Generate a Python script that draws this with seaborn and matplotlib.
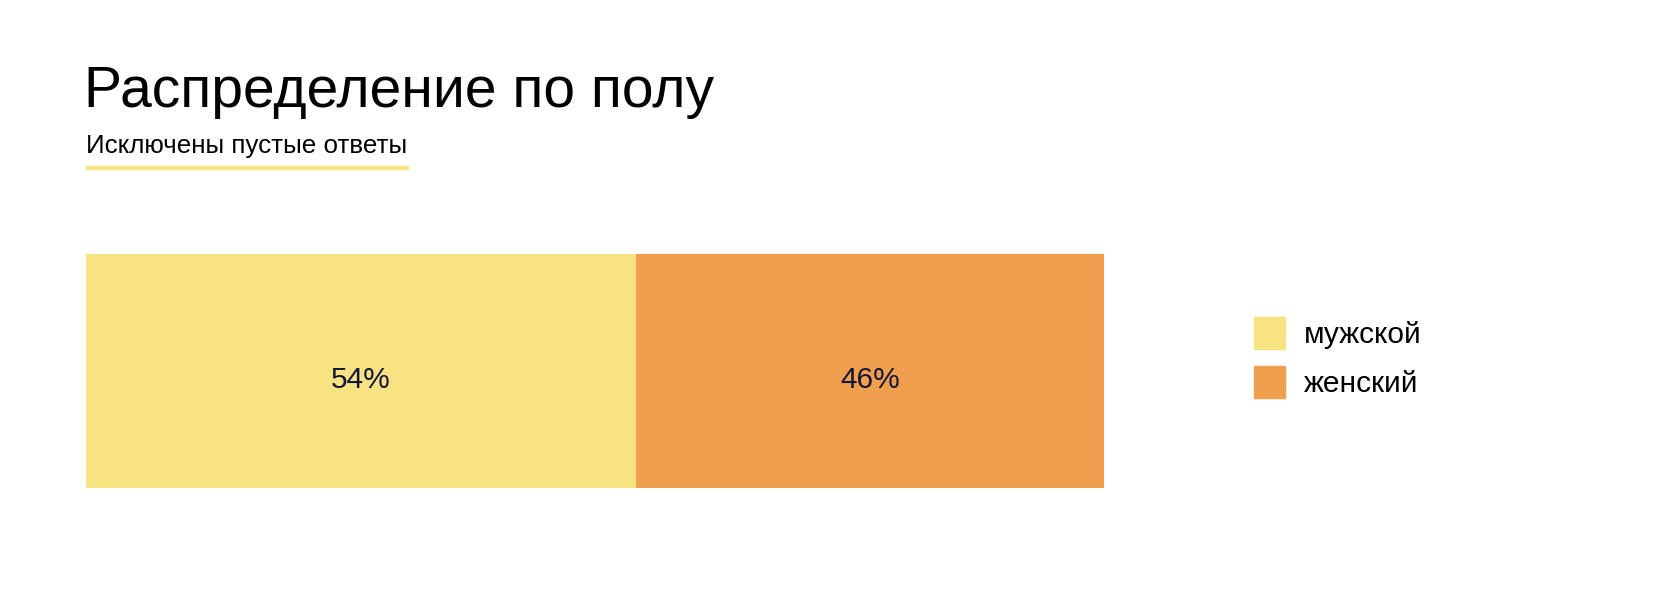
import pandas as pd
import seaborn as sns
from matplotlib import pyplot as plt
from matplotlib.patches import Patch
from matplotlib.lines import Line2D

# data -->
genders = ["мужской", "женский"]
shares = [54, 46]
colors = ["#F7E382", "#F09F4E"]

title = "Распределение по полу"
subtitle = "Исключены пустые ответы"

df = pd.DataFrame({"gender": genders, "share": shares})
df["cum"] = df["share"].cumsum()
df["row"] = "all"

sns.set_theme(style="white")
plt.rcParams["font.family"] = ["Liberation Sans", "DejaVu Sans"]

W, H = 1680, 609
fig = plt.figure(figsize=(W / 100, H / 100), dpi=100)
ax = fig.add_axes([86 / W, 1 - 488 / H, 1018 / W, 234 / H])

# stacked bar: draw widest (cumulative) first, then the shorter on top
order = df.sort_values("cum", ascending=False)
sns.barplot(data=order, x="cum", y="row", hue="gender", hue_order=list(order["gender"]),
            palette=dict(zip(genders, colors)), dodge=False, width=1.0, orient="h",
            legend=False, ax=ax, linewidth=0, saturation=1)

for _, r in df.iterrows():
    ax.text(r["cum"] - r["share"] / 2, 0.04, f"{r['share']}%", ha="center", va="center",
            fontsize=21.5, color="#15143a")

ax.set_xlim(0, df["cum"].max())
ax.set_ylim(0.5, -0.5)
ax.set_axis_off()

# titles -->
fig.text(84 / W, 1 - 107 / H, title, fontsize=41, color="black", va="baseline", ha="left")
fig.text(86 / W, 1 - 153 / H, subtitle, fontsize=18.7, color="black", va="baseline", ha="left")
fig.add_artist(Line2D([86 / W, 409 / W], [1 - 168 / H, 1 - 168 / H], color=colors[0],
                      linewidth=3.2, transform=fig.transFigure, solid_capstyle="butt"))

# legend -->
handles = [Patch(facecolor=c, edgecolor=c, label=g) for g, c in zip(genders, colors)]
leg = fig.legend(handles=handles, loc="upper left", bbox_to_anchor=(1254 / W, 1 - 317 / H),
                 frameon=False, fontsize=21.5, handlelength=1.04, handleheight=1.25,
                 handletextpad=0.62, labelspacing=0.58, borderpad=0, borderaxespad=0)
for t in leg.get_texts():
    t.set_color("black")

fig.savefig("out.png", dpi=100)
